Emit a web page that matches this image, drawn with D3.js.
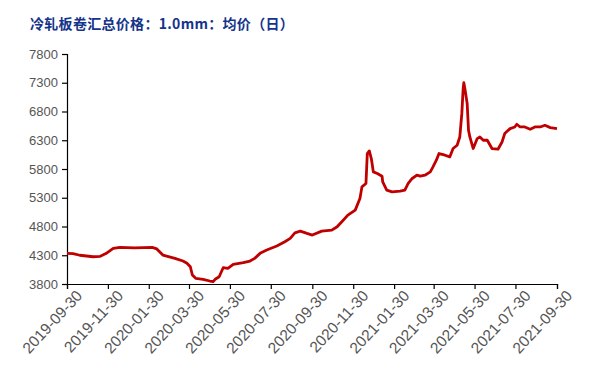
<!DOCTYPE html>
<html>
<head>
<meta charset="utf-8">
<script src="https://cdn.jsdelivr.net/npm/d3@7"></script>
<style>
  body { margin: 0; background: #fff; }
  .tick text { font-family: "Liberation Sans", Arial, sans-serif; font-size: 13px; fill: #555; }
  .x-axis .tick text { font-size: 15.5px; }
</style>
</head>
<body>
<div id="chart"></div>
<script>
// chart data
//====================
var title = "冷轧板卷汇总价格：1.0mm：均价（日）";

var dates = [
    "2019-09-30", "2019-10-09", "2019-10-19", "2019-11-08", "2019-11-18", "2019-11-27",
    "2019-12-08", "2019-12-18", "2020-01-09", "2020-02-04", "2020-02-11", "2020-02-20",
    "2020-03-09", "2020-03-21", "2020-03-27", "2020-04-01", "2020-04-04", "2020-04-09",
    "2020-04-20", "2020-04-30", "2020-05-05", "2020-05-08", "2020-05-14", "2020-05-20",
    "2020-05-27", "2020-06-04", "2020-06-19", "2020-06-29", "2020-07-06", "2020-07-14",
    "2020-07-24", "2020-08-08", "2020-08-20", "2020-08-28", "2020-09-04", "2020-09-12",
    "2020-09-22", "2020-09-30", "2020-10-14", "2020-10-29", "2020-11-06", "2020-11-13",
    "2020-11-22", "2020-12-03", "2020-12-10", "2020-12-13", "2020-12-19", "2020-12-21",
    "2020-12-24", "2020-12-27", "2020-12-30", "2021-01-05", "2021-01-12", "2021-01-13",
    "2021-01-19", "2021-01-27", "2021-02-08", "2021-02-15", "2021-02-20", "2021-02-26",
    "2021-03-05", "2021-03-10", "2021-03-17", "2021-03-25", "2021-03-29", "2021-04-03",
    "2021-04-07", "2021-04-16", "2021-04-23", "2021-04-28", "2021-05-04", "2021-05-08",
    "2021-05-11", "2021-05-13", "2021-05-14", "2021-05-16", "2021-05-19", "2021-05-21",
    "2021-05-23", "2021-05-28", "2021-06-03", "2021-06-07", "2021-06-12", "2021-06-18",
    "2021-06-25", "2021-07-04", "2021-07-10", "2021-07-14", "2021-07-22", "2021-07-29",
    "2021-08-01", "2021-08-06", "2021-08-13", "2021-08-21", "2021-08-28", "2021-09-05",
    "2021-09-12", "2021-09-20", "2021-09-30"
];

var prices = [
    4333, 4330, 4300, 4274, 4280, 4330,
    4420, 4437, 4430, 4437, 4410, 4303,
    4246, 4200, 4160, 4100, 3956, 3899,
    3882, 3852, 3840, 3882, 3927, 4083,
    4072, 4142, 4170, 4199, 4246, 4333,
    4390, 4460, 4534, 4593, 4690, 4720,
    4680, 4651, 4720, 4737, 4795, 4882,
    4998, 5085, 5288, 5489, 5548, 6069,
    6114, 5982, 5750, 5722, 5675, 5576,
    5432, 5402, 5414, 5432, 5548, 5635,
    5692, 5675, 5692, 5750, 5837, 5953,
    6069, 6040, 6010, 6156, 6213, 6357,
    6763, 7197, 7300, 7168, 6937, 6473,
    6357, 6156, 6329, 6357, 6300, 6300,
    6156, 6144, 6270, 6416, 6502, 6531,
    6578, 6531, 6531, 6491, 6531, 6531,
    6560, 6520, 6502
];

var yTicks = [3800, 4300, 4800, 5300, 5800, 6300, 6800, 7300, 7800];

var xTickLabels = [
    "2019-09-30", "2019-11-30", "2020-01-30", "2020-03-30", "2020-05-30", "2020-07-30",
    "2020-09-30", "2020-11-30", "2021-01-30", "2021-03-30", "2021-05-30", "2021-07-30",
    "2021-09-30"
];

// layout
//====================
var svgWidth = 590;
var svgHeight = 371;

var margin = {
    top: 54,
    right: 33,
    bottom: 87,
    left: 67
};

var width = svgWidth - margin.left - margin.right;
var height = svgHeight - margin.top - margin.bottom;

var parseDate = d3.timeParse("%Y-%m-%d");

var svg = d3.select("#chart")
    .append("svg")
    .attr("width", svgWidth)
    .attr("height", svgHeight);

var chartGroup = svg.append("g")
    .attr("transform", `translate(${margin.left}, ${margin.top})`);

// title
svg.append("text")
    .attr("x", 30)
    .attr("y", 29)
    .attr("font-family", "'Noto Sans CJK SC', sans-serif")
    .attr("font-size", "14px")
    .attr("font-weight", "bold")
    .attr("letter-spacing", "0.3px")
    .attr("fill", "#14338a")
    .text(title);

// scales
var xScale = d3.scaleTime()
    .domain([parseDate(xTickLabels[0]), parseDate(xTickLabels[xTickLabels.length - 1])])
    .range([0, width]);

var yScale = d3.scaleLinear()
    .domain([yTicks[0], yTicks[yTicks.length - 1]])
    .range([height, 0]);

// axes
var bottomAxis = d3.axisBottom(xScale)
    .tickValues(xTickLabels.map(parseDate))
    .tickFormat(d3.timeFormat("%Y-%m-%d"))
    .tickSizeOuter(0)
    .tickSize(5);

var leftAxis = d3.axisLeft(yScale)
    .tickValues(yTicks)
    .tickFormat(d3.format("d"))
    .tickSizeOuter(0)
    .tickSize(5)
    .tickPadding(4);

var xAxisG = chartGroup.append("g")
    .attr("class", "x-axis")
    .attr("transform", `translate(0, ${height})`)
    .call(bottomAxis);

xAxisG.selectAll(".tick text")
    .attr("text-anchor", "end")
    .attr("dx", "0.3em")
    .attr("dy", "0.9em")
    .attr("transform", "rotate(-47)")
    .attr("y", 6)
    .attr("x", -3);

var yAxisG = chartGroup.append("g")
    .call(leftAxis);

chartGroup.selectAll(".domain, .tick line")
    .attr("stroke", "#000")
    .attr("stroke-width", 1.2);

// line
var line = d3.line()
    .x((d, i) => xScale(parseDate(dates[i])))
    .y(d => yScale(d))
    .curve(d3.curveLinear);

chartGroup.append("path")
    .datum(prices)
    .attr("fill", "none")
    .attr("stroke", "#c00000")
    .attr("stroke-width", 2.8)
    .attr("stroke-linejoin", "round")
    .attr("d", line);
</script>
</body>
</html>
